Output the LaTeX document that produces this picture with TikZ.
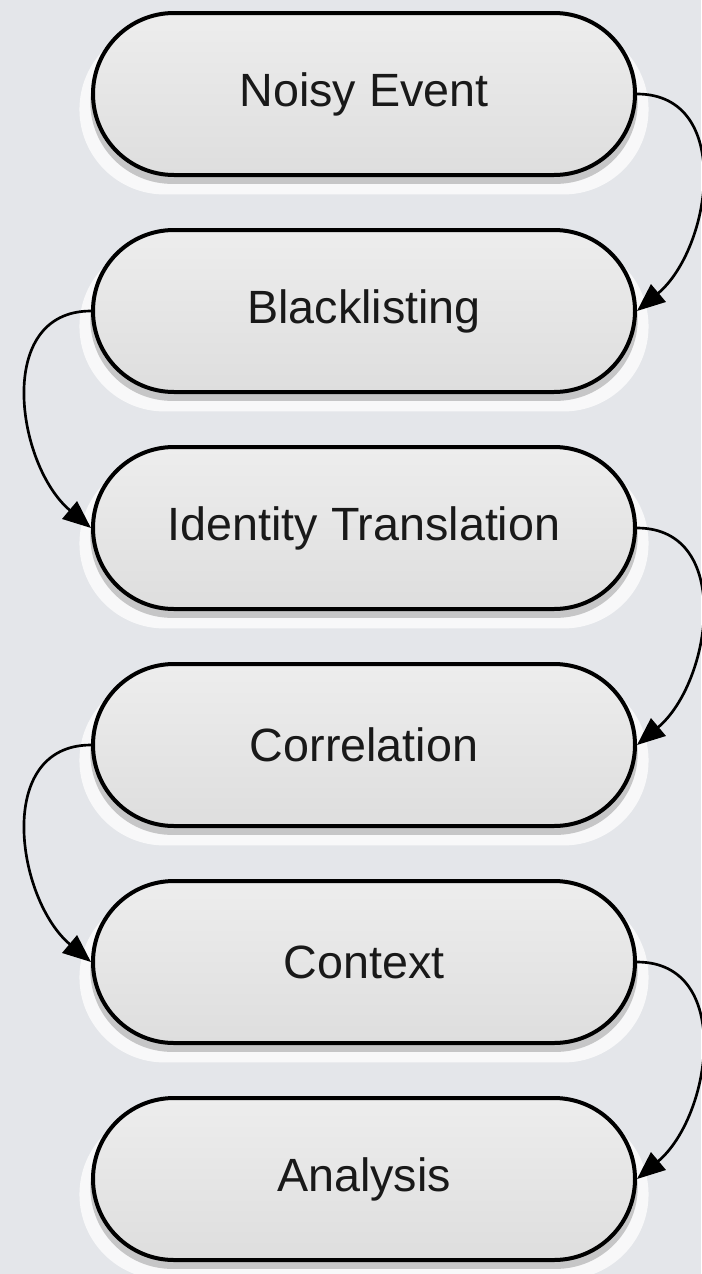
\documentclass[tikz,border=0pt]{standalone}
\usepackage{fontspec}
\setmainfont{Liberation Sans}
\usetikzlibrary{shapes.misc,shadows,arrows.meta}
\definecolor{bgcol}{RGB}{228,230,234}
\definecolor{txtcol}{RGB}{25,25,25}
\tikzset{
  pill/.style={rounded rectangle,draw=black,line width=3pt,
    top color=black!7,bottom color=black!13,
    minimum width=406.5pt,minimum height=121.5pt,inner sep=0pt,
    font=\fontsize{35}{40}\selectfont,text=txtcol,
    general shadow={fill=white,opacity=.75,shadow scale=1.05,shadow yshift=-11pt},
    general shadow={fill=black,opacity=.2,shadow yshift=-6pt,shadow scale=1.01}},
  link/.style={line width=2pt,-{Triangle[length=21pt,width=17pt]}}
}
\begin{document}
\begin{tikzpicture}[x=0.75pt,y=0.75pt]
\fill[bgcol](0,0)rectangle(701,-1274);
\useasboundingbox(0,0)rectangle(701,-1274);
%steps
\foreach \i/\txt in {1/Noisy Event,2/Blacklisting,3/Identity Translation,4/Correlation,5/Context,6/Analysis}
  {\node[pill](n\i) at (364,{-94-217*(\i-1)}){\txt};}
%arrows
\foreach \a/\b in {1/2,3/4,5/6}{\draw[link](n\a.east) to[out=0,in=40,looseness=1.15](n\b.east);}
\foreach \a/\b in {2/3,4/5}{\draw[link](n\a.west) to[out=180,in=140,looseness=1.15](n\b.west);}
\end{tikzpicture}
\end{document}
